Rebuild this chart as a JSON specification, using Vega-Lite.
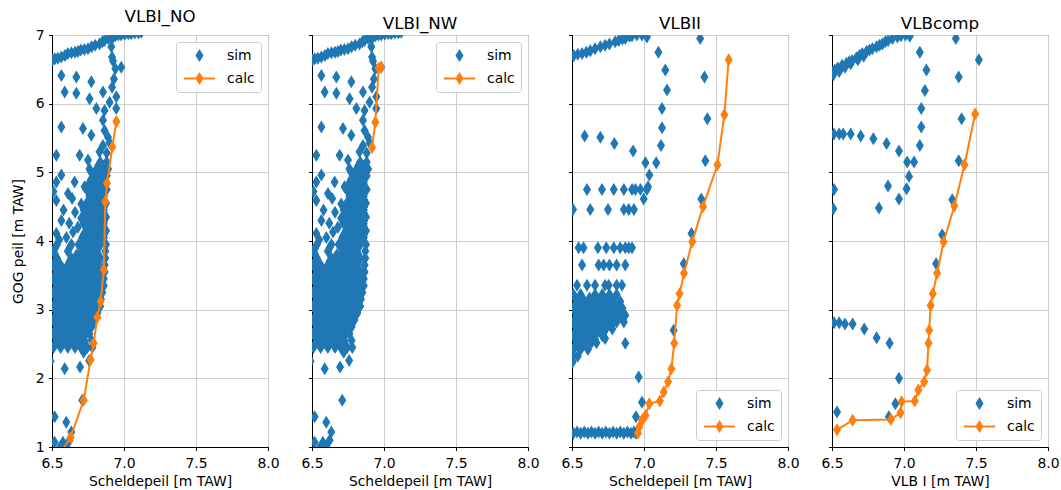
{
"$schema": "https://vega.github.io/schema/vega-lite/v6.json",
"padding": {"left": 10, "top": 8, "right": 5, "bottom": 5},
"bounds": "flush",
"spacing": 44,
"background": "white",
"config": {
  "font": "DejaVu Sans",
  "view": {"stroke": "black", "strokeWidth": 1},
  "axis": {"domainColor": "black", "tickColor": "black", "labelColor": "black", "titleColor": "black", "labelFontSize": 13.9, "titleFontSize": 13.9, "titleFontWeight": "normal", "tickSize": 3.5, "gridColor": "#cccccc", "gridWidth": 1, "labelFlush": false, "labelOverlap": false, "titlePadding": 5},
  "axisX": {"labelPadding": 5.5},
  "axisY": {"labelPadding": 4.5},
  "title": {"fontSize": 16.7, "fontWeight": "normal", "color": "black", "offset": 2, "font": "DejaVu Sans"},
  "legend": {"padding": 6, "symbolOffset": 10, "labelOffset": 20, "rowPadding": 8, "strokeColor": "#cccccc", "fillColor": "rgba(255,255,255,0.8)", "cornerRadius": 3, "offset": 7, "symbolSize": 169, "labelFontSize": 13.9, "labelColor": "black", "labelFont": "DejaVu Sans"}
},
"resolve": {"legend": {"color": "independent", "shape": "independent"}, "scale": {"color": "independent", "shape": "independent", "x": "independent", "y": "independent"}},
"datasets": {
  "no_sim": [
    {"x":6.505,"y":6.64},{"x":6.52,"y":6.655},{"x":6.54,"y":6.66},{"x":6.565,"y":6.68},{"x":6.59,"y":6.70},{"x":6.61,"y":6.73},{"x":6.635,"y":6.74},{"x":6.66,"y":6.75},{"x":6.68,"y":6.76},{"x":6.70,"y":6.78},{"x":6.725,"y":6.79},{"x":6.75,"y":6.80},{"x":6.775,"y":6.83},{"x":6.80,"y":6.85},{"x":6.83,"y":6.87},{"x":6.85,"y":6.90},{"x":6.865,"y":6.92},{"x":6.89,"y":6.95},{"x":6.91,"y":6.96},{"x":6.925,"y":6.97},{"x":6.94,"y":6.99},{"x":6.96,"y":7.0},{"x":6.98,"y":7.0},{"x":7.005,"y":7.01},{"x":7.03,"y":7.02},{"x":7.05,"y":7.02},{"x":7.075,"y":7.03},{"x":7.10,"y":7.03},{"x":7.12,"y":7.04},
    {"x":6.912,"y":6.83},{"x":6.917,"y":6.68},{"x":6.924,"y":6.62},{"x":6.981,"y":6.53},{"x":6.94,"y":6.51},{"x":6.93,"y":6.36},{"x":6.917,"y":6.24},{"x":6.947,"y":6.10},{"x":6.90,"y":6.02},
    {"x":6.565,"y":6.41},{"x":6.669,"y":6.39},{"x":6.773,"y":6.32},{"x":6.588,"y":6.17},{"x":6.669,"y":6.15},{"x":6.761,"y":6.07},{"x":6.854,"y":6.17},{"x":6.808,"y":5.93},{"x":6.865,"y":5.90},{"x":6.946,"y":5.93},{"x":6.565,"y":5.66},{"x":6.715,"y":5.64},{"x":6.773,"y":5.54},{"x":6.854,"y":5.76},{"x":6.865,"y":5.61},{"x":6.889,"y":5.51},{"x":6.854,"y":5.39},{"x":6.90,"y":5.43},{"x":6.88,"y":5.28},{"x":6.83,"y":5.30},
    {"x":6.53,"y":5.25},{"x":6.692,"y":5.25},{"x":6.75,"y":5.18},{"x":6.565,"y":4.96},{"x":6.53,"y":4.86},{"x":6.657,"y":4.86},{"x":6.726,"y":4.79},{"x":6.53,"y":4.59},{"x":6.611,"y":4.69},{"x":6.703,"y":4.54},{"x":6.58,"y":4.45},{"x":6.66,"y":4.42},{"x":6.565,"y":4.30},{"x":6.62,"y":4.26},{"x":6.703,"y":4.33},{"x":6.53,"y":4.11},{"x":6.646,"y":4.13},{"x":6.60,"y":4.05},{"x":6.68,"y":4.20},{"x":6.51,"y":4.72},{"x":6.64,"y":4.62},{"x":6.55,"y":4.02},
    {"x":6.51,"y":2.45},{"x":6.56,"y":2.45},{"x":6.61,"y":2.45},{"x":6.66,"y":2.45},{"x":6.70,"y":2.45},{"x":6.745,"y":2.45},
    {"x":6.535,"y":2.55},{"x":6.585,"y":2.55},{"x":6.635,"y":2.55},{"x":6.685,"y":2.55},{"x":6.725,"y":2.55},{"x":6.775,"y":2.55},
    {"x":6.51,"y":2.65},{"x":6.56,"y":2.65},{"x":6.61,"y":2.65},{"x":6.66,"y":2.65},{"x":6.71,"y":2.65},{"x":6.76,"y":2.65},
    {"x":6.535,"y":2.75},{"x":6.585,"y":2.75},{"x":6.635,"y":2.75},{"x":6.685,"y":2.75},{"x":6.735,"y":2.75},{"x":6.775,"y":2.75},
    {"x":6.51,"y":2.85},{"x":6.56,"y":2.85},{"x":6.61,"y":2.85},{"x":6.66,"y":2.85},{"x":6.71,"y":2.85},{"x":6.76,"y":2.85},{"x":6.795,"y":2.85},
    {"x":6.535,"y":2.95},{"x":6.585,"y":2.95},{"x":6.635,"y":2.95},{"x":6.685,"y":2.95},{"x":6.735,"y":2.95},{"x":6.785,"y":2.95},{"x":6.815,"y":2.95},
    {"x":6.51,"y":3.05},{"x":6.56,"y":3.05},{"x":6.61,"y":3.05},{"x":6.66,"y":3.05},{"x":6.71,"y":3.05},{"x":6.76,"y":3.05},{"x":6.81,"y":3.05},{"x":6.835,"y":3.05},
    {"x":6.535,"y":3.15},{"x":6.585,"y":3.15},{"x":6.635,"y":3.15},{"x":6.685,"y":3.15},{"x":6.735,"y":3.15},{"x":6.785,"y":3.15},{"x":6.84,"y":3.15},
    {"x":6.51,"y":3.25},{"x":6.56,"y":3.25},{"x":6.61,"y":3.25},{"x":6.66,"y":3.25},{"x":6.71,"y":3.25},{"x":6.76,"y":3.25},{"x":6.81,"y":3.25},{"x":6.85,"y":3.25},
    {"x":6.535,"y":3.35},{"x":6.585,"y":3.35},{"x":6.635,"y":3.35},{"x":6.685,"y":3.35},{"x":6.735,"y":3.35},{"x":6.785,"y":3.35},{"x":6.835,"y":3.35},{"x":6.86,"y":3.35},
    {"x":6.51,"y":3.45},{"x":6.56,"y":3.45},{"x":6.61,"y":3.45},{"x":6.66,"y":3.45},{"x":6.71,"y":3.45},{"x":6.76,"y":3.45},{"x":6.81,"y":3.45},{"x":6.86,"y":3.45},
    {"x":6.535,"y":3.55},{"x":6.585,"y":3.55},{"x":6.635,"y":3.55},{"x":6.685,"y":3.55},{"x":6.735,"y":3.55},{"x":6.785,"y":3.55},{"x":6.835,"y":3.55},{"x":6.865,"y":3.55},
    {"x":6.51,"y":3.65},{"x":6.56,"y":3.65},{"x":6.61,"y":3.65},{"x":6.66,"y":3.65},{"x":6.71,"y":3.65},{"x":6.76,"y":3.65},{"x":6.81,"y":3.65},{"x":6.865,"y":3.65},
    {"x":6.535,"y":3.75},{"x":6.635,"y":3.75},{"x":6.685,"y":3.75},{"x":6.735,"y":3.75},{"x":6.785,"y":3.75},{"x":6.835,"y":3.75},{"x":6.87,"y":3.75},
    {"x":6.51,"y":3.85},{"x":6.61,"y":3.85},{"x":6.71,"y":3.85},{"x":6.76,"y":3.85},{"x":6.81,"y":3.85},{"x":6.87,"y":3.85},
    {"x":6.535,"y":3.95},{"x":6.635,"y":3.95},{"x":6.685,"y":3.95},{"x":6.735,"y":3.95},{"x":6.785,"y":3.95},{"x":6.835,"y":3.95},{"x":6.875,"y":3.95},
    {"x":6.71,"y":4.05},{"x":6.76,"y":4.05},{"x":6.81,"y":4.05},{"x":6.86,"y":4.05},
    {"x":6.735,"y":4.15},{"x":6.785,"y":4.15},{"x":6.835,"y":4.15},{"x":6.875,"y":4.15},
    {"x":6.72,"y":4.25},{"x":6.76,"y":4.25},{"x":6.81,"y":4.25},{"x":6.86,"y":4.25},
    {"x":6.735,"y":4.35},{"x":6.785,"y":4.35},{"x":6.835,"y":4.35},{"x":6.875,"y":4.35},
    {"x":6.72,"y":4.45},{"x":6.76,"y":4.45},{"x":6.81,"y":4.45},{"x":6.86,"y":4.45},
    {"x":6.74,"y":4.55},{"x":6.785,"y":4.55},{"x":6.835,"y":4.55},{"x":6.875,"y":4.55},
    {"x":6.76,"y":4.65},{"x":6.81,"y":4.65},{"x":6.86,"y":4.65},
    {"x":6.74,"y":4.75},{"x":6.785,"y":4.75},{"x":6.835,"y":4.75},{"x":6.88,"y":4.75},
    {"x":6.76,"y":4.85},{"x":6.81,"y":4.85},{"x":6.86,"y":4.85},
    {"x":6.785,"y":4.95},{"x":6.835,"y":4.95},{"x":6.88,"y":4.95},
    {"x":6.76,"y":5.05},{"x":6.81,"y":5.05},{"x":6.86,"y":5.05},{"x":6.89,"y":5.05},
    {"x":6.835,"y":5.15},{"x":6.88,"y":5.15},
    {"x":6.522,"y":2.50},{"x":6.572,"y":2.50},{"x":6.622,"y":2.50},{"x":6.672,"y":2.50},{"x":6.722,"y":2.50},
    {"x":6.522,"y":2.60},{"x":6.572,"y":2.60},{"x":6.622,"y":2.60},{"x":6.672,"y":2.60},{"x":6.722,"y":2.60},
    {"x":6.522,"y":2.70},{"x":6.572,"y":2.70},{"x":6.622,"y":2.70},{"x":6.672,"y":2.70},{"x":6.722,"y":2.70},
    {"x":6.522,"y":2.80},{"x":6.572,"y":2.80},{"x":6.622,"y":2.80},{"x":6.672,"y":2.80},{"x":6.722,"y":2.80},{"x":6.772,"y":2.80},
    {"x":6.522,"y":2.90},{"x":6.572,"y":2.90},{"x":6.622,"y":2.90},{"x":6.672,"y":2.90},{"x":6.722,"y":2.90},{"x":6.772,"y":2.90},
    {"x":6.522,"y":3.00},{"x":6.572,"y":3.00},{"x":6.622,"y":3.00},{"x":6.672,"y":3.00},{"x":6.722,"y":3.00},{"x":6.772,"y":3.00},
    {"x":6.522,"y":3.10},{"x":6.572,"y":3.10},{"x":6.622,"y":3.10},{"x":6.672,"y":3.10},{"x":6.722,"y":3.10},{"x":6.772,"y":3.10},{"x":6.822,"y":3.10},
    {"x":6.522,"y":3.20},{"x":6.572,"y":3.20},{"x":6.622,"y":3.20},{"x":6.672,"y":3.20},{"x":6.722,"y":3.20},{"x":6.772,"y":3.20},{"x":6.822,"y":3.20},
    {"x":6.522,"y":3.30},{"x":6.572,"y":3.30},{"x":6.622,"y":3.30},{"x":6.672,"y":3.30},{"x":6.722,"y":3.30},{"x":6.772,"y":3.30},{"x":6.822,"y":3.30},
    {"x":6.522,"y":3.40},{"x":6.572,"y":3.40},{"x":6.622,"y":3.40},{"x":6.672,"y":3.40},{"x":6.722,"y":3.40},{"x":6.772,"y":3.40},{"x":6.822,"y":3.40},
    {"x":6.522,"y":3.50},{"x":6.572,"y":3.50},{"x":6.622,"y":3.50},{"x":6.672,"y":3.50},{"x":6.722,"y":3.50},{"x":6.772,"y":3.50},{"x":6.822,"y":3.50},
    {"x":6.522,"y":3.60},{"x":6.572,"y":3.60},{"x":6.622,"y":3.60},{"x":6.672,"y":3.60},{"x":6.722,"y":3.60},{"x":6.772,"y":3.60},{"x":6.822,"y":3.60},
    {"x":6.522,"y":3.70},{"x":6.622,"y":3.70},{"x":6.672,"y":3.70},{"x":6.722,"y":3.70},{"x":6.772,"y":3.70},{"x":6.822,"y":3.70},
    {"x":6.522,"y":3.80},{"x":6.672,"y":3.80},{"x":6.722,"y":3.80},{"x":6.772,"y":3.80},{"x":6.822,"y":3.80},
    {"x":6.522,"y":3.90},{"x":6.622,"y":3.90},{"x":6.722,"y":3.90},{"x":6.772,"y":3.90},{"x":6.822,"y":3.90},
    {"x":6.722,"y":4.00},{"x":6.772,"y":4.00},{"x":6.822,"y":4.00},
    {"x":6.722,"y":4.10},{"x":6.772,"y":4.10},{"x":6.822,"y":4.10},{"x":6.862,"y":4.10},
    {"x":6.742,"y":4.20},{"x":6.772,"y":4.20},{"x":6.822,"y":4.20},{"x":6.862,"y":4.20},
    {"x":6.722,"y":4.30},{"x":6.772,"y":4.30},{"x":6.822,"y":4.30},{"x":6.862,"y":4.30},
    {"x":6.742,"y":4.40},{"x":6.772,"y":4.40},{"x":6.822,"y":4.40},{"x":6.862,"y":4.40},
    {"x":6.772,"y":4.50},{"x":6.822,"y":4.50},{"x":6.862,"y":4.50},
    {"x":6.772,"y":4.60},{"x":6.822,"y":4.60},{"x":6.862,"y":4.60},
    {"x":6.772,"y":4.70},{"x":6.822,"y":4.70},{"x":6.862,"y":4.70},
    {"x":6.772,"y":4.80},{"x":6.822,"y":4.80},{"x":6.862,"y":4.80},
    {"x":6.772,"y":4.90},{"x":6.822,"y":4.90},{"x":6.862,"y":4.90},
    {"x":6.772,"y":5.00},{"x":6.822,"y":5.00},{"x":6.862,"y":5.00},
    {"x":6.822,"y":5.10},{"x":6.862,"y":5.10},
    {"x":6.49,"y":2.25},{"x":6.588,"y":2.14},{"x":6.695,"y":2.165},{"x":6.758,"y":2.26},{"x":6.72,"y":2.38},{"x":6.78,"y":2.45},{"x":6.71,"y":1.68},{"x":6.518,"y":1.44},{"x":6.599,"y":1.36},{"x":6.634,"y":1.22},{"x":6.518,"y":1.07},{"x":6.576,"y":1.07},{"x":6.622,"y":1.10},{"x":6.55,"y":0.98},{"x":6.60,"y":1.0}
  ],
  "no_calc": [
    {"x":6.56,"y":0.92},{"x":6.629,"y":1.14},{"x":6.72,"y":1.68},{"x":6.768,"y":2.27},{"x":6.789,"y":2.51},{"x":6.815,"y":2.89},{"x":6.838,"y":3.12},{"x":6.86,"y":3.58},{"x":6.87,"y":4.57},{"x":6.882,"y":4.84},{"x":6.919,"y":5.37},{"x":6.947,"y":5.74}
  ],
  "nw_calc": [
    {"x":6.917,"y":5.36},{"x":6.94,"y":5.73},{"x":6.963,"y":6.52},{"x":6.98,"y":6.53}
  ],
  "ii_sim": [
    {"x":6.512,"y":6.70},{"x":6.54,"y":6.72},{"x":6.57,"y":6.73},{"x":6.60,"y":6.75},{"x":6.627,"y":6.77},{"x":6.66,"y":6.80},{"x":6.697,"y":6.83},{"x":6.73,"y":6.85},{"x":6.76,"y":6.87},{"x":6.80,"y":6.90},{"x":6.824,"y":6.92},{"x":6.85,"y":6.94},{"x":6.87,"y":6.95},{"x":6.90,"y":6.98},{"x":6.917,"y":6.99},{"x":6.95,"y":7.0},{"x":6.986,"y":7.0},{"x":7.02,"y":6.97},{"x":7.39,"y":6.95},
    {"x":7.10,"y":6.75},{"x":7.148,"y":6.49},{"x":7.16,"y":6.20},{"x":7.125,"y":5.93},{"x":7.125,"y":5.65},{"x":7.118,"y":5.39},{"x":7.085,"y":5.14},{"x":7.01,"y":5.14},{"x":7.037,"y":4.96},{"x":7.028,"y":4.79},{"x":6.998,"y":4.61},
    {"x":7.42,"y":6.39},{"x":7.44,"y":5.78},{"x":7.426,"y":5.17},{"x":7.398,"y":4.61},{"x":7.33,"y":4.11},{"x":7.276,"y":3.67},{"x":7.206,"y":2.70},
    {"x":6.588,"y":5.53},{"x":6.697,"y":5.51},{"x":6.794,"y":5.42},{"x":6.924,"y":5.31},
    {"x":6.604,"y":4.75},{"x":6.708,"y":4.75},{"x":6.79,"y":4.75},{"x":6.86,"y":4.75},{"x":6.917,"y":4.75},{"x":6.94,"y":4.75},{"x":6.975,"y":4.75},{"x":7.02,"y":4.75},
    {"x":6.507,"y":4.46},{"x":6.627,"y":4.46},{"x":6.75,"y":4.46},{"x":6.86,"y":4.46},{"x":6.894,"y":4.46},{"x":6.93,"y":4.46},
    {"x":6.546,"y":3.90},{"x":6.58,"y":3.90},{"x":6.68,"y":3.90},{"x":6.738,"y":3.90},{"x":6.79,"y":3.90},{"x":6.835,"y":3.90},{"x":6.87,"y":3.90},{"x":6.894,"y":3.90},{"x":6.917,"y":3.90},
    {"x":6.57,"y":3.65},{"x":6.685,"y":3.65},{"x":6.72,"y":3.65},{"x":6.76,"y":3.65},{"x":6.81,"y":3.65},{"x":6.87,"y":3.65},
    {"x":6.535,"y":3.355},{"x":6.604,"y":3.355},{"x":6.66,"y":3.355},{"x":6.73,"y":3.355},{"x":6.755,"y":3.355},{"x":6.81,"y":3.355},{"x":6.847,"y":3.355},
    {"x":6.51,"y":3.22},{"x":6.56,"y":3.22},{"x":6.66,"y":3.22},{"x":6.71,"y":3.22},{"x":6.76,"y":3.22},{"x":6.81,"y":3.22},
    {"x":6.535,"y":3.12},{"x":6.585,"y":3.12},{"x":6.635,"y":3.12},{"x":6.685,"y":3.12},{"x":6.735,"y":3.12},{"x":6.785,"y":3.12},{"x":6.835,"y":3.12},
    {"x":6.51,"y":3.02},{"x":6.56,"y":3.02},{"x":6.61,"y":3.02},{"x":6.66,"y":3.02},{"x":6.71,"y":3.02},{"x":6.76,"y":3.02},{"x":6.81,"y":3.02},{"x":6.85,"y":3.02},
    {"x":6.535,"y":2.92},{"x":6.585,"y":2.92},{"x":6.635,"y":2.92},{"x":6.685,"y":2.92},{"x":6.735,"y":2.92},{"x":6.785,"y":2.92},{"x":6.835,"y":2.92},{"x":6.87,"y":2.92},
    {"x":6.51,"y":2.82},{"x":6.56,"y":2.82},{"x":6.61,"y":2.82},{"x":6.66,"y":2.82},{"x":6.71,"y":2.82},{"x":6.76,"y":2.82},{"x":6.81,"y":2.82},{"x":6.86,"y":2.82},
    {"x":6.535,"y":2.72},{"x":6.585,"y":2.72},{"x":6.635,"y":2.72},{"x":6.685,"y":2.72},{"x":6.735,"y":2.72},{"x":6.78,"y":2.72},
    {"x":6.51,"y":2.62},{"x":6.56,"y":2.62},{"x":6.61,"y":2.62},{"x":6.66,"y":2.62},{"x":6.71,"y":2.62},{"x":6.73,"y":2.58},
    {"x":6.535,"y":2.52},{"x":6.585,"y":2.52},{"x":6.635,"y":2.52},{"x":6.67,"y":2.52},{"x":6.87,"y":2.51},
    {"x":6.51,"y":2.42},{"x":6.56,"y":2.42},{"x":6.61,"y":2.42},{"x":6.51,"y":2.32},{"x":6.54,"y":2.32},{"x":6.505,"y":2.24},
    {"x":6.522,"y":3.17},{"x":6.572,"y":3.17},{"x":6.622,"y":3.17},{"x":6.672,"y":3.17},{"x":6.722,"y":3.17},{"x":6.772,"y":3.17},
    {"x":6.522,"y":3.07},{"x":6.572,"y":3.07},{"x":6.622,"y":3.07},{"x":6.672,"y":3.07},{"x":6.722,"y":3.07},{"x":6.772,"y":3.07},{"x":6.822,"y":3.07},
    {"x":6.522,"y":2.97},{"x":6.572,"y":2.97},{"x":6.622,"y":2.97},{"x":6.672,"y":2.97},{"x":6.722,"y":2.97},{"x":6.772,"y":2.97},{"x":6.822,"y":2.97},
    {"x":6.522,"y":2.87},{"x":6.572,"y":2.87},{"x":6.622,"y":2.87},{"x":6.672,"y":2.87},{"x":6.722,"y":2.87},{"x":6.772,"y":2.87},{"x":6.822,"y":2.87},
    {"x":6.522,"y":2.77},{"x":6.572,"y":2.77},{"x":6.622,"y":2.77},{"x":6.672,"y":2.77},{"x":6.722,"y":2.77},{"x":6.772,"y":2.77},
    {"x":6.522,"y":2.67},{"x":6.572,"y":2.67},{"x":6.622,"y":2.67},{"x":6.672,"y":2.67},{"x":6.722,"y":2.67},
    {"x":6.522,"y":2.57},{"x":6.572,"y":2.57},{"x":6.622,"y":2.57},{"x":6.66,"y":2.57},
    {"x":6.522,"y":2.47},{"x":6.572,"y":2.47},
    {"x":6.51,"y":1.20},{"x":6.535,"y":1.22},{"x":6.56,"y":1.20},{"x":6.585,"y":1.22},{"x":6.61,"y":1.20},{"x":6.635,"y":1.22},{"x":6.66,"y":1.20},{"x":6.685,"y":1.22},{"x":6.71,"y":1.20},{"x":6.735,"y":1.22},{"x":6.76,"y":1.20},{"x":6.785,"y":1.22},{"x":6.81,"y":1.20},{"x":6.835,"y":1.22},{"x":6.86,"y":1.20},{"x":6.885,"y":1.22},{"x":6.91,"y":1.20},{"x":6.93,"y":1.22},{"x":6.945,"y":1.20},
    {"x":6.963,"y":2.02},{"x":6.986,"y":1.65},{"x":6.944,"y":1.44}
  ],
  "ii_calc": [
    {"x":6.958,"y":1.20},{"x":6.967,"y":1.29},{"x":6.986,"y":1.39},{"x":7.01,"y":1.46},{"x":7.037,"y":1.63},{"x":7.11,"y":1.67},{"x":7.137,"y":1.80},{"x":7.167,"y":1.95},{"x":7.19,"y":2.14},{"x":7.21,"y":2.51},{"x":7.23,"y":3.06},{"x":7.247,"y":3.23},{"x":7.278,"y":3.53},{"x":7.335,"y":3.99},{"x":7.41,"y":4.50},{"x":7.51,"y":5.11},{"x":7.558,"y":5.84},{"x":7.588,"y":6.64}
  ],
  "comp_sim": [
    {"x":6.50,"y":6.46},{"x":6.52,"y":6.49},{"x":6.54,"y":6.52},{"x":6.57,"y":6.56},{"x":6.60,"y":6.59},{"x":6.62,"y":6.61},{"x":6.64,"y":6.63},{"x":6.67,"y":6.67},{"x":6.69,"y":6.70},{"x":6.71,"y":6.73},{"x":6.74,"y":6.76},{"x":6.76,"y":6.78},{"x":6.78,"y":6.80},{"x":6.81,"y":6.83},{"x":6.83,"y":6.85},{"x":6.85,"y":6.87},{"x":6.87,"y":6.90},{"x":6.89,"y":6.92},{"x":6.92,"y":6.95},{"x":6.955,"y":6.97},{"x":6.98,"y":6.99},{"x":7.01,"y":7.0},{"x":7.04,"y":6.98},{"x":7.36,"y":6.95},{"x":6.51,"y":6.42},{"x":6.55,"y":6.47},{"x":6.59,"y":6.53},{"x":6.63,"y":6.58},{"x":6.68,"y":6.64},{"x":6.72,"y":6.69},
    {"x":7.11,"y":6.75},{"x":7.156,"y":6.49},{"x":7.145,"y":6.19},{"x":7.12,"y":5.93},{"x":7.12,"y":5.66},{"x":7.11,"y":5.39},{"x":7.07,"y":5.15},{"x":7.022,"y":5.15},{"x":7.035,"y":4.94},{"x":7.018,"y":4.76},{"x":6.965,"y":4.61},
    {"x":7.52,"y":6.64},{"x":7.38,"y":6.39},{"x":7.40,"y":5.78},{"x":7.38,"y":5.17},{"x":7.335,"y":4.60},{"x":7.265,"y":4.09},{"x":7.223,"y":3.67},
    {"x":6.514,"y":5.56},{"x":6.55,"y":5.56},{"x":6.578,"y":5.56},{"x":6.63,"y":5.56},{"x":6.70,"y":5.53},{"x":6.787,"y":5.49},{"x":6.879,"y":5.42},{"x":6.965,"y":5.31},
    {"x":6.889,"y":4.80},{"x":6.826,"y":4.48},{"x":6.514,"y":4.75},{"x":6.509,"y":4.47},
    {"x":6.514,"y":2.81},{"x":6.55,"y":2.81},{"x":6.59,"y":2.79},{"x":6.643,"y":2.79},{"x":6.724,"y":2.72},{"x":6.81,"y":2.59},{"x":6.90,"y":2.51},{"x":6.965,"y":2.00},{"x":6.94,"y":1.63},{"x":6.535,"y":1.51},{"x":6.895,"y":1.44}
  ],
  "comp_calc": [
    {"x":6.535,"y":1.25},{"x":6.643,"y":1.39},{"x":6.909,"y":1.40},{"x":6.976,"y":1.50},{"x":6.983,"y":1.66},{"x":7.075,"y":1.67},{"x":7.10,"y":1.83},{"x":7.14,"y":1.95},{"x":7.16,"y":2.12},{"x":7.17,"y":2.51},{"x":7.175,"y":2.70},{"x":7.185,"y":3.06},{"x":7.20,"y":3.23},{"x":7.23,"y":3.53},{"x":7.275,"y":3.99},{"x":7.35,"y":4.51},{"x":7.42,"y":5.11},{"x":7.494,"y":5.85}
  ]
},
"hconcat": [
  {
    "title": "VLBI_NO", "width": 216, "height": 412,
    "layer": [
      {"data": {"name": "no_sim"}, "mark": {"type": "point", "filled": true, "opacity": 1, "size": 169, "strokeWidth": 0, "clip": true},
       "encoding": {
         "x": {"field": "x", "type": "quantitative", "scale": {"domain": [6.5, 8], "nice": false, "zero": false}, "axis": {"values": [6.5, 7, 7.5, 8], "format": ".1f", "title": "Scheldepeil [m TAW]"}},
         "y": {"field": "y", "type": "quantitative", "scale": {"domain": [1, 7], "nice": false, "zero": false}, "axis": {"values": [1, 2, 3, 4, 5, 6, 7], "format": "d", "title": "GOG peil [m TAW]", "titlePadding": 10}},
         "color": {"datum": "sim", "scale": {"domain": ["sim", "calc"], "range": ["#1f77b4", "#ff7f0e"]}, "legend": {"orient": "top-right", "title": null}},
         "shape": {"datum": "sim", "scale": {"domain": ["sim", "calc"], "range": ["M0,-1L0.62,0L0,1L-0.62,0Z", "M-2.4,-0.16L2.4,-0.16L2.4,0.16L-2.4,0.16Z M0,-1L0.62,0L0,1L-0.62,0Z"]}, "legend": {"orient": "top-right", "title": null}}
       }},
      {"data": {"name": "no_calc"}, "mark": {"type": "line", "color": "#ff7f0e", "strokeWidth": 2, "clip": true},
       "encoding": {"x": {"field": "x", "type": "quantitative"}, "y": {"field": "y", "type": "quantitative"}, "order": {"field": "y"}}},
      {"data": {"name": "no_calc"}, "mark": {"type": "point", "shape": "M0,-1L0.62,0L0,1L-0.62,0Z", "filled": true, "opacity": 1, "size": 169, "strokeWidth": 0, "clip": true},
       "encoding": {"x": {"field": "x", "type": "quantitative"}, "y": {"field": "y", "type": "quantitative"}, "color": {"datum": "calc"}}}
    ]
  },
  {
    "title": "VLBI_NW", "width": 216, "height": 412,
    "layer": [
      {"data": {"name": "no_sim"}, "mark": {"type": "point", "filled": true, "opacity": 1, "size": 169, "strokeWidth": 0, "clip": true},
       "encoding": {
         "x": {"field": "x", "type": "quantitative", "scale": {"domain": [6.5, 8], "nice": false, "zero": false}, "axis": {"values": [6.5, 7, 7.5, 8], "format": ".1f", "title": "Scheldepeil [m TAW]"}},
         "y": {"field": "y", "type": "quantitative", "scale": {"domain": [1, 7], "nice": false, "zero": false}, "axis": {"values": [1, 2, 3, 4, 5, 6, 7], "labels": false, "title": null}},
         "color": {"datum": "sim", "scale": {"domain": ["sim", "calc"], "range": ["#1f77b4", "#ff7f0e"]}, "legend": {"orient": "top-right", "title": null}},
         "shape": {"datum": "sim", "scale": {"domain": ["sim", "calc"], "range": ["M0,-1L0.62,0L0,1L-0.62,0Z", "M-2.4,-0.16L2.4,-0.16L2.4,0.16L-2.4,0.16Z M0,-1L0.62,0L0,1L-0.62,0Z"]}, "legend": {"orient": "top-right", "title": null}}
       }},
      {"data": {"name": "nw_calc"}, "mark": {"type": "line", "color": "#ff7f0e", "strokeWidth": 2, "clip": true},
       "encoding": {"x": {"field": "x", "type": "quantitative"}, "y": {"field": "y", "type": "quantitative"}, "order": {"field": "y"}}},
      {"data": {"name": "nw_calc"}, "mark": {"type": "point", "shape": "M0,-1L0.62,0L0,1L-0.62,0Z", "filled": true, "opacity": 1, "size": 169, "strokeWidth": 0, "clip": true},
       "encoding": {"x": {"field": "x", "type": "quantitative"}, "y": {"field": "y", "type": "quantitative"}, "color": {"datum": "calc"}}}
    ]
  },
  {
    "title": "VLBII", "width": 216, "height": 412,
    "layer": [
      {"data": {"name": "ii_sim"}, "mark": {"type": "point", "filled": true, "opacity": 1, "size": 169, "strokeWidth": 0, "clip": true},
       "encoding": {
         "x": {"field": "x", "type": "quantitative", "scale": {"domain": [6.5, 8], "nice": false, "zero": false}, "axis": {"values": [6.5, 7, 7.5, 8], "format": ".1f", "title": "Scheldepeil [m TAW]"}},
         "y": {"field": "y", "type": "quantitative", "scale": {"domain": [1, 7], "nice": false, "zero": false}, "axis": {"values": [1, 2, 3, 4, 5, 6, 7], "labels": false, "title": null}},
         "color": {"datum": "sim", "scale": {"domain": ["sim", "calc"], "range": ["#1f77b4", "#ff7f0e"]}, "legend": {"orient": "bottom-right", "title": null}},
         "shape": {"datum": "sim", "scale": {"domain": ["sim", "calc"], "range": ["M0,-1L0.62,0L0,1L-0.62,0Z", "M-2.4,-0.16L2.4,-0.16L2.4,0.16L-2.4,0.16Z M0,-1L0.62,0L0,1L-0.62,0Z"]}, "legend": {"orient": "bottom-right", "title": null}}
       }},
      {"data": {"name": "ii_calc"}, "mark": {"type": "line", "color": "#ff7f0e", "strokeWidth": 2, "clip": true},
       "encoding": {"x": {"field": "x", "type": "quantitative"}, "y": {"field": "y", "type": "quantitative"}, "order": {"field": "y"}}},
      {"data": {"name": "ii_calc"}, "mark": {"type": "point", "shape": "M0,-1L0.62,0L0,1L-0.62,0Z", "filled": true, "opacity": 1, "size": 169, "strokeWidth": 0, "clip": true},
       "encoding": {"x": {"field": "x", "type": "quantitative"}, "y": {"field": "y", "type": "quantitative"}, "color": {"datum": "calc"}}}
    ]
  },
  {
    "title": "VLBcomp", "width": 216, "height": 412,
    "layer": [
      {"data": {"name": "comp_sim"}, "mark": {"type": "point", "filled": true, "opacity": 1, "size": 169, "strokeWidth": 0, "clip": true},
       "encoding": {
         "x": {"field": "x", "type": "quantitative", "scale": {"domain": [6.5, 8], "nice": false, "zero": false}, "axis": {"values": [6.5, 7, 7.5, 8], "format": ".1f", "title": "VLB I [m TAW]"}},
         "y": {"field": "y", "type": "quantitative", "scale": {"domain": [1, 7], "nice": false, "zero": false}, "axis": {"values": [1, 2, 3, 4, 5, 6, 7], "labels": false, "title": null}},
         "color": {"datum": "sim", "scale": {"domain": ["sim", "calc"], "range": ["#1f77b4", "#ff7f0e"]}, "legend": {"orient": "bottom-right", "title": null}},
         "shape": {"datum": "sim", "scale": {"domain": ["sim", "calc"], "range": ["M0,-1L0.62,0L0,1L-0.62,0Z", "M-2.4,-0.16L2.4,-0.16L2.4,0.16L-2.4,0.16Z M0,-1L0.62,0L0,1L-0.62,0Z"]}, "legend": {"orient": "bottom-right", "title": null}}
       }},
      {"data": {"name": "comp_calc"}, "mark": {"type": "line", "color": "#ff7f0e", "strokeWidth": 2, "clip": true},
       "encoding": {"x": {"field": "x", "type": "quantitative"}, "y": {"field": "y", "type": "quantitative"}, "order": {"field": "y"}}},
      {"data": {"name": "comp_calc"}, "mark": {"type": "point", "shape": "M0,-1L0.62,0L0,1L-0.62,0Z", "filled": true, "opacity": 1, "size": 169, "strokeWidth": 0, "clip": true},
       "encoding": {"x": {"field": "x", "type": "quantitative"}, "y": {"field": "y", "type": "quantitative"}, "color": {"datum": "calc"}}}
    ]
  }
]
}
